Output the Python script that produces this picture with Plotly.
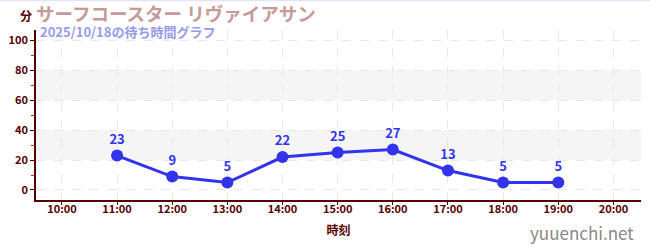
import plotly.graph_objects as go

times = ["11:00", "12:00", "13:00", "14:00", "15:00", "16:00", "17:00", "18:00", "19:00"]
waits = [23, 9, 5, 22, 25, 27, 13, 5, 5]
tick_labels = ["10:00", "11:00", "12:00", "13:00", "14:00", "15:00", "16:00", "17:00", "18:00", "19:00", "20:00"]
title_text = "サーフコースター リヴァイアサン"
subtitle_text = "2025/10/18の待ち時間グラフ"

def to_h(s):
    h, m = s.split(":")
    return int(h) + int(m) / 60

xs = [to_h(t) for t in times]
tickvals = [to_h(t) for t in tick_labels]

FONT = "Noto Sans CJK JP"
AX = "#550000"

fig = go.Figure()
fig.add_trace(go.Scatter(
    x=xs, y=waits, mode="lines+markers+text",
    text=[str(v) for v in waits], textposition="top center",
    textfont=dict(family=FONT, size=13, color="#3333ee", weight="bold"),
    line=dict(color="#3333ee", width=3),
    marker=dict(color="#3333ee", size=12),
    hoverinfo="skip", cliponaxis=False,
))

for lo, hi in [(20, 40), (60, 80)]:
    fig.add_shape(type="rect", xref="paper", x0=0, x1=1, yref="y", y0=lo, y1=hi,
                  fillcolor="#f5f5f5", line=dict(width=0), layer="below")

fig.update_layout(
    width=650, height=250,
    margin=dict(l=31, r=9, t=30, b=50),
    paper_bgcolor="white", plot_bgcolor="white",
    showlegend=False,
    font=dict(family=FONT, color=AX),
    xaxis=dict(
        range=[9.53, 20.5], tickvals=tickvals, ticktext=tick_labels,
        showgrid=True, gridcolor="#e8e8e8", griddash="dash", gridwidth=1,
        showline=True, linecolor=AX, linewidth=1.5,
        ticks="outside", ticklen=3, tickcolor=AX,
        ticklabelstandoff=-5,
        tickfont=dict(family=FONT, size=11, color=AX, weight="bold"),
        title=dict(text="時刻", font=dict(family=FONT, size=12, color=AX, weight="bold"), standoff=12),
        zeroline=False, fixedrange=True,
    ),
    yaxis=dict(
        range=[-6.7, 107], tickvals=[0, 20, 40, 60, 80, 100],
        showgrid=True, gridcolor="#e8e8e8", griddash="dash", gridwidth=1,
        showline=True, linecolor=AX, linewidth=1.5,
        ticks="outside", ticklen=4, tickcolor=AX,
        tickfont=dict(family=FONT, size=11, color=AX, weight="bold"),
        minor=dict(tickvals=[10, 30, 50, 70, 90], ticks="outside", ticklen=3, tickcolor="#dd2222", showgrid=False),
        zeroline=False, fixedrange=True,
    ),
)

fig.add_shape(type="line", xref="paper", yref="paper", x0=-0.1, x1=1.1, y0=1 + 29.5 / 170, y1=1 + 29.5 / 170,
              line=dict(color="#e4e4f8", width=1.5))

fig.add_annotation(text="分", xref="paper", yref="paper", x=0, y=1.0, xanchor="right", yanchor="middle",
                   xshift=-2, yshift=15, showarrow=False,
                   font=dict(family=FONT, size=12, color=AX, weight="bold"))
fig.add_annotation(text=title_text, xref="paper", yref="paper", x=0, y=1.0, xanchor="left", yanchor="middle",
                   xshift=-2, yshift=17, showarrow=False,
                   font=dict(family=FONT, size=18.5, color="#c49a9a", weight="bold"))
fig.add_annotation(text=subtitle_text, xref="paper", yref="paper", x=0, y=1.0, xanchor="left", yanchor="middle",
                   xshift=2, yshift=-1, showarrow=False,
                   font=dict(family=FONT, size=13, color="#9999ee", weight="bold"))
fig.add_annotation(text="yuuenchi.net", xref="paper", yref="paper", x=1, y=0, xanchor="right", yanchor="middle",
                   xshift=-5, yshift=-32, showarrow=False,
                   font=dict(family=FONT, size=17, color="#888888"))

fig.write_html("out.html")
